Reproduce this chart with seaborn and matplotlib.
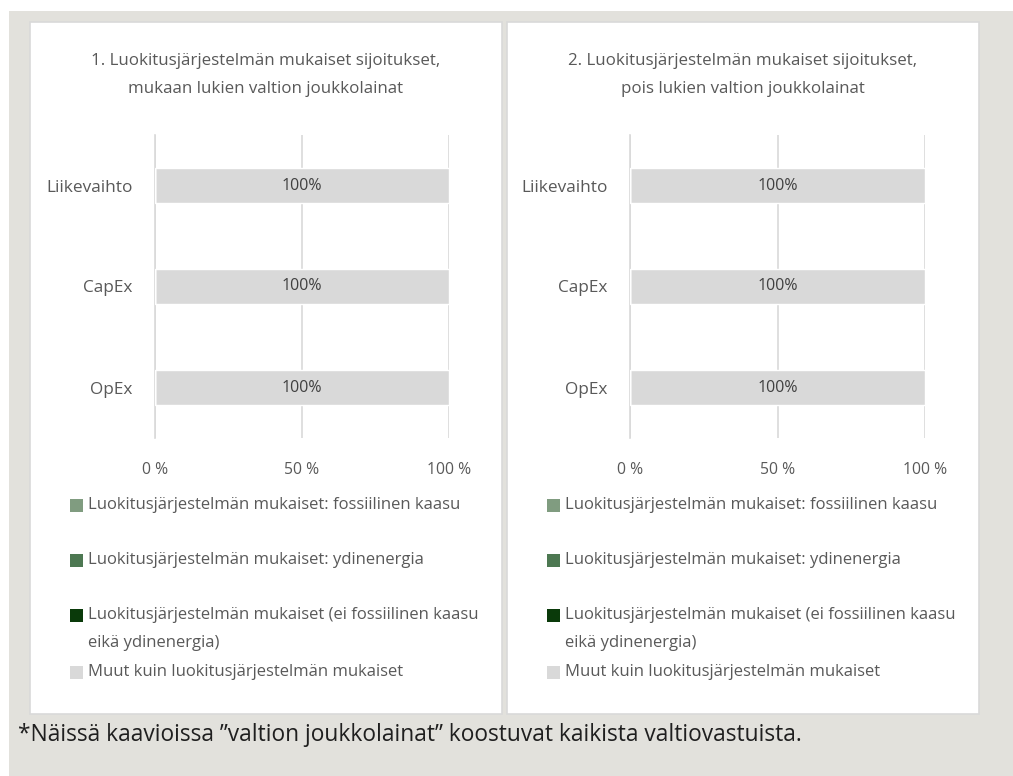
import matplotlib
matplotlib.use("Agg")
import matplotlib.pyplot as plt
from matplotlib.patches import Rectangle
import pandas as pd
import seaborn as sns

# values (share of investments, %)
categories = ["Liikevaihto", "CapEx", "OpEx"]
series_labels = ["Luokitusjärjestelmän mukaiset: fossiilinen kaasu",
                 "Luokitusjärjestelmän mukaiset: ydinenergia",
                 "Luokitusjärjestelmän mukaiset (ei fossiilinen kaasu\neikä ydinenergia)",
                 "Muut kuin luokitusjärjestelmän mukaiset"]
series_colors = ["#809c80", "#4d7852", "#0a3a0a", "#d9d9d9"]

left_fossil = [0, 0, 0]
left_nuclear = [0, 0, 0]
left_aligned = [0, 0, 0]
left_other = [100, 100, 100]

right_fossil = [0, 0, 0]
right_nuclear = [0, 0, 0]
right_aligned = [0, 0, 0]
right_other = [100, 100, 100]

titles = ["1. Luokitusjärjestelmän mukaiset sijoitukset,\nmukaan lukien valtion joukkolainat",
          "2. Luokitusjärjestelmän mukaiset sijoitukset,\npois lukien valtion joukkolainat"]
x_ticks = [0, 50, 100]
x_ticklabels = ["0 %", "50 %", "100 %"]
footnote = "*Näissä kaavioissa ”valtion joukkolainat” koostuvat kaikista valtiovastuista."

sns.set_style("white")
plt.rcParams["font.family"] = ["Open Sans", "DejaVu Sans"]
TXT = "#595959"

W, H = 1013, 776
fig = plt.figure(figsize=(W / 100, H / 100), dpi=100)

def px(x0, y0, x1, y1):
    # pixel box -> figure fraction rect
    return [x0 / W, 1 - y1 / H, (x1 - x0) / W, (y1 - y0) / H]

# background and panels
fig.patches.append(Rectangle((9 / W, 0), (W - 9) / W, 1 - 11 / H, transform=fig.transFigure,
                             facecolor="#e2e1dc", edgecolor="none", zorder=-10))
for x0, x1 in [(30, 502), (507, 979)]:
    r = px(x0, 22, x1, 714)
    fig.patches.append(Rectangle((r[0], r[1]), r[2], r[3], transform=fig.transFigure,
                                 facecolor="white", edgecolor="#d9d9d9", lw=1.2, zorder=-9))

panels = [
    ([left_fossil, left_nuclear, left_aligned, left_other], (155, 449), (30, 502)),
    ([right_fossil, right_nuclear, right_aligned, right_other], (630, 925), (507, 979)),
]

for i, (vals, (ax0, ax1), (p0, p1)) in enumerate(panels):
    ax = fig.add_axes(px(ax0, 135, ax1, 438))
    df = pd.DataFrame({"cat": categories})
    # stacked bars: draw cumulative totals, widest first
    cum = [0, 0, 0]
    cums = []
    for v in vals:
        cum = [a + b for a, b in zip(cum, v)]
        cums.append(cum)
    for k in range(len(vals) - 1, -1, -1):
        df["val"] = cums[k]
        sns.barplot(data=df, x="val", y="cat", color=series_colors[k], width=0.34,
                    saturation=1, ax=ax, zorder=3)
    # segment labels
    for j in range(len(categories)):
        start = 0
        for k, v in enumerate(vals):
            if v[j] > 0:
                ax.text(start + v[j] / 2, j, f"{v[j]}%", ha="center", va="center",
                        fontsize=11.5, color="#404040", zorder=5)
            start += v[j]
    ax.set_xlim(0, 100)
    ax.set_ylim(2.5, -0.5)
    ax.set_xlabel("")
    ax.set_ylabel("")
    ax.set_xticks(x_ticks)
    ax.set_xticklabels(x_ticklabels)
    ax.set_yticks(range(len(categories)))
    ax.set_yticklabels(categories)
    ax.set_yticks([-0.5, 0.5, 1.5, 2.5], minor=True)
    ax.tick_params(axis="x", length=0, pad=17, labelsize=11.3, colors=TXT)
    ax.tick_params(axis="y", which="major", length=0, pad=16, labelsize=12.4, colors=TXT)
    ax.tick_params(axis="y", which="minor", length=5, width=1.2, color="#d9d9d9", direction="out")
    ax.grid(axis="x", color="#d9d9d9", lw=1.2, zorder=0)
    for s in ["top", "right", "bottom"]:
        ax.spines[s].set_visible(False)
    ax.spines["left"].set_color("#d9d9d9")
    ax.spines["left"].set_linewidth(1.2)
    ax.set_axisbelow(True)

    cx = (p0 + p1) / 2
    fig.text(cx / W, 1 - 75 / H, titles[i], ha="center", va="center", fontsize=12.2,
             color=TXT, linespacing=2.0)

    # legend rows
    lx = p0 + 40
    rows = [505, 560, 629, 672]
    for k, y in enumerate(rows):
        sy = y if k != 2 else 615
        fig.patches.append(Rectangle(((lx) / W, 1 - (sy + 6.5) / H), 13 / W, 13 / H,
                                     transform=fig.transFigure, facecolor=series_colors[k],
                                     edgecolor="none"))
        fig.text((lx + 18) / W, 1 - y / H, series_labels[k], ha="left", va="center",
                 fontsize=12, color=TXT, linespacing=2.0)

fig.text(18 / W, 1 - 735 / H, footnote, ha="left", va="center", fontsize=16.4, color="#1f1f1f")

fig.savefig("out.png", dpi=100, facecolor="white")
